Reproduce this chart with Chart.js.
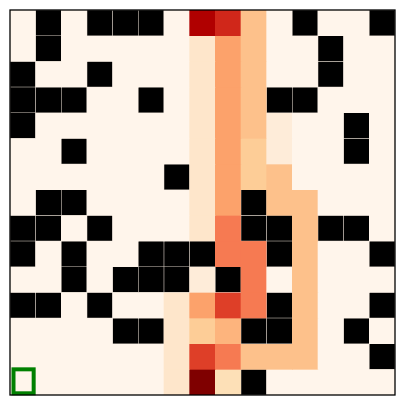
<!DOCTYPE html>
<html><head><meta charset="utf-8">
<script src="https://cdn.jsdelivr.net/npm/chart.js@4.4.0/dist/chart.umd.min.js"></script>
<style>html,body{margin:0;padding:0;background:#fff;}#wrap{width:405px;height:405px;}</style>
</head><body><div id="wrap"><canvas id="c" width="405" height="405"></canvas></div>
<script>
// Column labels (left to right) and row labels (top to bottom)
const columns = ['0','1','2','3','4','5','6','7','8','9','10','11','12','13','14'];
const rows = ['0','1','2','3','4','5','6','7','8','9','10','11','12','13','14'];
const WALL = -1;
// Cell levels, rows listed top to bottom; -1 = wall
const row0  = [0,-1,0,-1,-1,-1,0,11,10,5,0,-1,0,0,-1];
const row1  = [0,-1,0,0,0,0,0,2,7,5,0,0,-1,0,0];
const row2  = [-1,0,0,-1,0,0,0,2,7,5,0,0,-1,0,0];
const row3  = [-1,-1,-1,0,0,-1,0,2,7,5,-1,-1,0,0,0];
const row4  = [-1,0,0,0,0,0,0,2,7,5,1,0,0,-1,0];
const row5  = [0,0,-1,0,0,0,0,2,7,4,1,0,0,-1,0];
const row6  = [0,0,0,0,0,0,-1,2,7,4,5,0,0,0,0];
const row7  = [0,-1,-1,0,0,0,0,2,7,-1,5,5,0,0,0];
const row8  = [-1,-1,0,-1,0,0,0,2,8,-1,-1,5,-1,-1,0];
const row9  = [-1,0,-1,0,0,-1,-1,-1,8,8,-1,5,0,0,-1];
const row10 = [0,0,-1,0,-1,-1,-1,1,-1,8,0,5,0,0,0];
const row11 = [-1,-1,0,-1,0,0,2,7,9,8,-1,5,0,0,-1];
const row12 = [0,0,0,0,-1,-1,2,4,6,-1,-1,5,0,-1,0];
const row13 = [0,0,0,0,0,0,2,9,8,5,5,5,0,0,-1];
const row14 = [0,0,0,0,0,0,2,12,3,-1,0,0,0,0,0];
const grid = [row0,row1,row2,row3,row4,row5,row6,row7,row8,row9,row10,row11,row12,row13,row14];
const startCell = {row: 14, col: 0};

// Styles
const palette = ['#fff5eb','#feecd9','#fee6cb','#fde0b7','#fdcd97','#fdc18b','#fdb47d','#fca26b','#f67a52','#de3f28','#d0271a','#b00000','#7f0000'];
const wallColor = '#000000';

const datasets = grid.map((vals, r) => ({
  label: rows[r],
  data: vals.map(() => [r, r + 1]),
  backgroundColor: vals.map(v => v === WALL ? wallColor : palette[v]),
  borderColor: vals.map(v => v === WALL ? 'rgba(215,205,195,1)' : 'rgba(0,0,0,0)'),
  borderWidth: vals.map(v => v === WALL ? 0.6 : 0),
  borderSkipped: false,
  grouped: false,
  categoryPercentage: 1,
  barPercentage: 1
}));

const gridPlugin = {
  id: 'gridPlugin',
  beforeDatasetsDraw(chart) {
    const {ctx, chartArea: a} = chart;
    ctx.save();
    ctx.fillStyle = palette[0];
    ctx.fillRect(a.left, a.top, a.width, a.height);
    ctx.restore();
  },
  afterDraw(chart) {
    const {ctx, chartArea: a, scales} = chart;
    const half = a.width / columns.length / 2;
    const cx = scales.x.getPixelForValue(startCell.col);
    const y0 = scales.y.getPixelForValue(startCell.row);
    const y1 = scales.y.getPixelForValue(startCell.row + 1);
    ctx.save();
    ctx.strokeStyle = '#008000';
    ctx.lineWidth = 4;
    ctx.strokeRect(cx - half + 3.5, y0, 2 * half - 5.5, (y1 - y0) - 1.7);
    ctx.strokeStyle = '#000';
    ctx.lineWidth = 1.3;
    ctx.strokeRect(a.left, a.top, a.width, a.height);
    ctx.restore();
  }
};

new Chart(document.getElementById('c'), {
  type: 'bar',
  data: {labels: columns, datasets},
  options: {
    responsive: false,
    devicePixelRatio: 1,
    animation: false,
    layout: {padding: {left: 10, right: 10, top: 10, bottom: 10}},
    plugins: {legend: {display: false}, tooltip: {enabled: false}},
    scales: {
      x: {display: false, offset: true, grid: {display: false}},
      y: {display: false, min: 0, max: 15, reverse: true, grid: {display: false}}
    }
  },
  plugins: [gridPlugin]
});
</script>
</body></html>
